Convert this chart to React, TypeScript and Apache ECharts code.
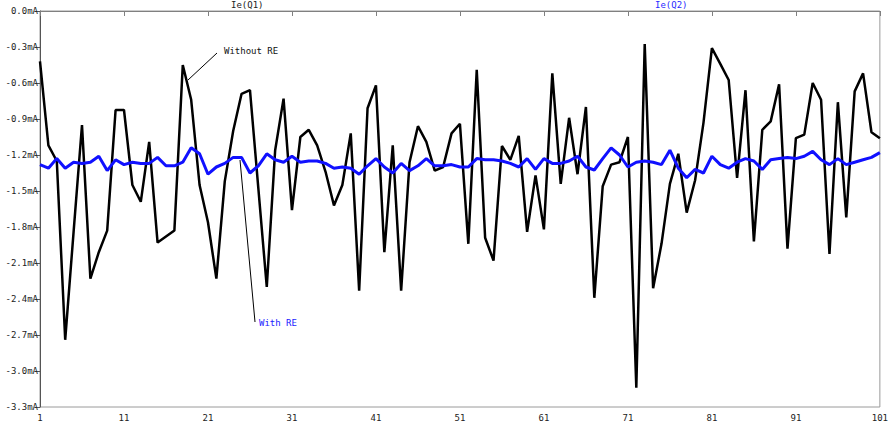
import React, { useEffect, useRef } from "react";
import * as echarts from "echarts";

const steps: string[] = Array.from({ length: 101 }, (_, i) => String(i + 1));

const withoutRE: number[] = [
  -0.42, -1.12, -1.25, -2.74, -1.84, -0.95, -2.23, -2.01, -1.83, -0.825,
  -0.825, -1.45, -1.59, -1.09, -1.93, -1.88, -1.83, -0.45, -0.74, -1.45,
  -1.76, -2.23, -1.42, -1.0, -0.69, -0.66, -1.48, -2.3, -1.16, -0.73,
  -1.66, -1.05, -0.99, -1.12, -1.34, -1.62, -1.45, -1.02, -2.33, -0.81,
  -0.62, -2.01, -1.12, -2.33, -1.26, -0.96, -1.09, -1.33, -1.3, -1.02,
  -0.94, -1.94, -0.49, -1.89, -2.08, -1.125, -1.24, -1.04, -1.84, -1.37,
  -1.82, -0.52, -1.44, -0.89, -1.36, -0.8, -2.39, -1.46, -1.28, -1.26,
  -1.05, -3.14, -0.275, -2.31, -1.94, -1.44, -1.19, -1.68, -1.41, -0.93,
  -0.31, -0.44, -0.575, -1.39, -0.66, -1.92, -0.99, -0.92, -0.61, -1.98,
  -1.06, -1.03, -0.6, -0.74, -2.025, -0.76, -1.72, -0.67, -0.52, -1.01,
  -1.06,
];

const withRE: number[] = [
  -1.28, -1.31, -1.23, -1.31, -1.26, -1.27, -1.26, -1.21, -1.33, -1.24,
  -1.28, -1.26, -1.27, -1.27, -1.22, -1.29, -1.29, -1.26, -1.14, -1.19,
  -1.36, -1.3, -1.27, -1.22, -1.22, -1.35, -1.29, -1.19, -1.24, -1.26,
  -1.21, -1.26, -1.25, -1.25, -1.27, -1.31, -1.3, -1.31, -1.36, -1.29,
  -1.23, -1.3, -1.35, -1.27, -1.33, -1.29, -1.23, -1.29, -1.29, -1.28,
  -1.3, -1.3, -1.23, -1.24, -1.24, -1.25, -1.27, -1.3, -1.23, -1.32,
  -1.23, -1.27, -1.27, -1.25, -1.21, -1.3, -1.325, -1.23, -1.14, -1.2,
  -1.3, -1.26, -1.25, -1.26, -1.28, -1.16, -1.31, -1.39, -1.32, -1.35,
  -1.21, -1.28, -1.31, -1.26, -1.23, -1.25, -1.32, -1.24, -1.23, -1.22,
  -1.23, -1.21, -1.17, -1.24, -1.28, -1.23, -1.28, -1.26, -1.24, -1.22,
  -1.18,
];

const FONT = "DejaVu Sans Mono";

export default function App() {
  const ref = useRef<HTMLDivElement>(null);
  useEffect(() => {
    document.body.style.margin = "0";
    const chart = echarts.init(ref.current!, undefined, { renderer: "svg" });
    chart.setOption({
      animation: false,
      backgroundColor: "#ffffff",
      grid: {
        left: 40,
        right: 10,
        top: 11,
        bottom: 19,
        show: true,
        borderColor: "#9a9a9a",
        borderWidth: 1,
      },
      xAxis: {
        type: "category",
        data: steps,
        boundaryGap: false,
        axisLine: { lineStyle: { color: "#808080", width: 1 } },
        axisTick: { interval: 9, length: 5, lineStyle: { color: "#808080" } },
        axisLabel: {
          interval: 9,
          color: "#222",
          fontFamily: FONT,
          fontSize: 9,
          margin: 6,
        },
        splitLine: { show: false },
      },
      yAxis: {
        type: "value",
        min: -3.3,
        max: 0,
        interval: 0.3,
        axisLine: { show: true, lineStyle: { color: "#555", width: 1 } },
        axisTick: { show: true, length: 5, lineStyle: { color: "#555" } },
        axisLabel: {
          color: "#222",
          fontFamily: FONT,
          fontSize: 9,
          margin: 2,
          formatter: (v: number) => (Math.abs(v) < 1e-9 ? "0.0" : v.toFixed(1)) + "mA",
        },
        splitLine: { show: false },
      },
      series: [
        {
          name: "Ie(Q1)",
          type: "line",
          data: withoutRE,
          showSymbol: false,
          lineStyle: { color: "#000000", width: 2.5 },
          z: 2,
        },
        {
          name: "Ie(Q2)",
          type: "line",
          data: withRE,
          showSymbol: false,
          lineStyle: { color: "#1010ff", width: 3 },
          z: 3,
        },
      ],
      graphic: [
        {
          type: "text",
          left: 231,
          top: 0,
          style: { text: "Ie(Q1)", fill: "#222", font: `9px '${FONT}'` },
        },
        {
          type: "text",
          left: 655,
          top: 0,
          style: { text: "Ie(Q2)", fill: "#2a2aff", font: `9px '${FONT}'` },
        },
        {
          type: "line",
          shape: { x1: 217, y1: 53, x2: 188, y2: 80 },
          style: { stroke: "#000", lineWidth: 1 },
          z: 10,
        },
        {
          type: "text",
          left: 224,
          top: 46,
          style: { text: "Without RE", fill: "#111", font: `9px '${FONT}'` },
          z: 10,
        },
        {
          type: "line",
          shape: { x1: 240, y1: 160, x2: 255, y2: 322 },
          style: { stroke: "#000", lineWidth: 1 },
          z: 10,
        },
        {
          type: "text",
          left: 259,
          top: 318,
          style: { text: "With RE", fill: "#1a1aff", font: `9px '${FONT}'` },
          z: 10,
        },
      ],
    });
    return () => chart.dispose();
  }, []);
  return (
    <div
      ref={ref}
      style={{ position: "fixed", left: 0, top: 0, width: 891, height: 426 }}
    />
  );
}
